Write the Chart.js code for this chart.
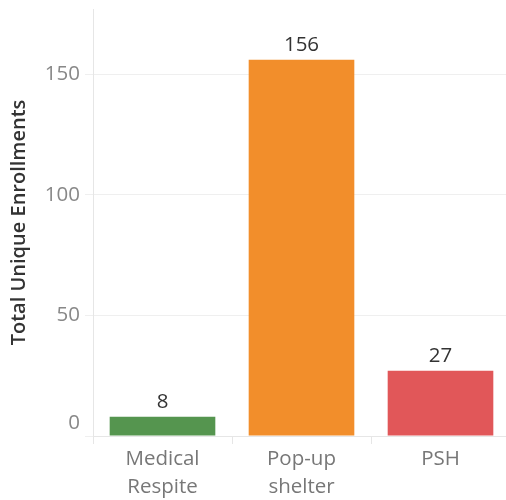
<!DOCTYPE html>
<html>
<head>
<meta charset="utf-8">
<script src="https://cdn.jsdelivr.net/npm/chart.js@4/dist/chart.umd.min.js"></script>
<style>
  html, body { margin: 0; padding: 0; overflow: hidden; background: #fff; }
  #wrap { width: 510px; height: 500px; }
</style>
</head>
<body>
<div id="wrap"><canvas id="enrollChart"></canvas></div>
<script>
// Data
var categories = [['Medical', 'Respite'], ['Pop-up', 'shelter'], ['PSH']];
var enrollments = [8, 156, 27];
var barColors = ['#55954f', '#f28e2b', '#e15759'];
var yTickValues = [0, 50, 100, 150];

var fontFamily = '"Open Sans", "DejaVu Sans", sans-serif';

// draws the value above each bar + the "0" tick (tableau shifts it up)
var labelPlugin = {
  id: 'labelPlugin',
  afterDatasetsDraw: function (chart) {
    var ctx = chart.ctx;
    var meta = chart.getDatasetMeta(0);
    ctx.save();
    ctx.font = '20.5px ' + fontFamily;
    ctx.fillStyle = '#333';
    ctx.textAlign = 'center';
    ctx.textBaseline = 'middle';
    meta.data.forEach(function (bar, i) {
      ctx.fillText(enrollments[i], bar.x, bar.y - 15);
    });
    // zero tick label
    var yScale = chart.scales.y;
    ctx.fillStyle = '#888';
    ctx.textAlign = 'right';
    ctx.fillText('0', yScale.right - 13, yScale.getPixelForValue(0) - 13);
    ctx.restore();
  }
};

var enrollChart = new Chart(document.getElementById('enrollChart').getContext('2d'), {
  type: 'bar',
  data: {
    labels: categories,
    datasets: [{
      data: enrollments,
      backgroundColor: barColors,
      borderWidth: 0,
      categoryPercentage: 1,
      barPercentage: 0.76
    }]
  },
  options: {
    responsive: true,
    maintainAspectRatio: false,
    animation: false,
    layout: { padding: { top: 9, left: 0, right: 0, bottom: 0 } },
    plugins: {
      legend: { display: false },
      tooltip: { enabled: false }
    },
    scales: {
      x: {
        offset: true,
        afterFit: function (scale) { scale.height = 64; },
        grid: {
          offset: true,
          drawOnChartArea: false,
          drawTicks: true,
          tickLength: 8,
          color: '#e6e6e6'
        },
        border: { display: true, color: '#e6e6e6' },
        ticks: {
          padding: 1,
          color: '#777',
          font: { family: fontFamily, size: 20.5, lineHeight: 1.37 },
          maxRotation: 0
        }
      },
      y: {
        min: 0,
        max: 177,
        afterFit: function (scale) {
          scale.width = 93;
          scale.paddingTop = 0; // let the axis reach the top like tableau
        },
        afterBuildTicks: function (scale) {
          scale.ticks = yTickValues.map(function (v) { return { value: v }; });
        },
        grid: {
          color: '#efefef',
          tickLength: 8
        },
        border: { display: true, color: '#e6e6e6' },
        ticks: {
          padding: 5,
          color: function (c) { return c.tick.value === 0 ? 'rgba(0,0,0,0)' : '#888'; },
          font: { family: fontFamily, size: 20.5 }
        },
        title: {
          display: true,
          text: 'Total Unique Enrollments',
          color: '#333',
          font: { family: fontFamily, size: 20, weight: '600' },
          padding: { top: 7, bottom: 0 }
        }
      }
    }
  },
  plugins: [labelPlugin]
});
</script>
</body>
</html>
